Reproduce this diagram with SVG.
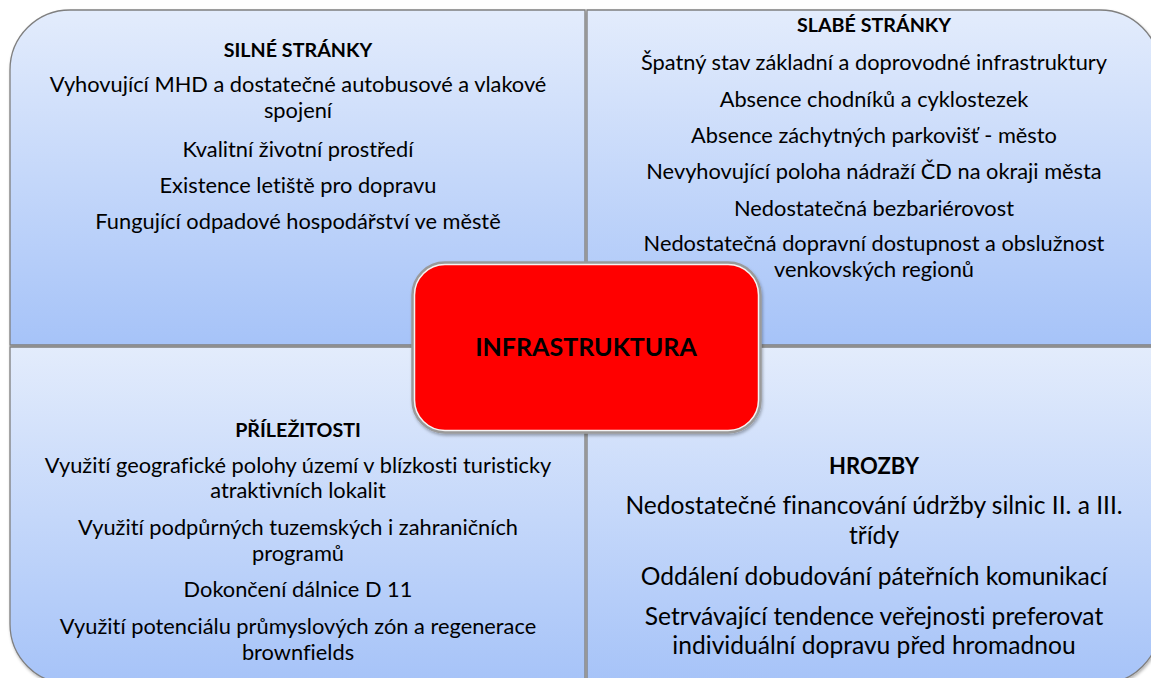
<svg xmlns="http://www.w3.org/2000/svg" width="1151" height="678" viewBox="0 0 1151 678">
<defs>
<linearGradient id="gq" x1="0" y1="0" x2="0" y2="1">
<stop offset="0" stop-color="#e3ecfc"/>
<stop offset="1" stop-color="#a6c3f8"/>
</linearGradient>
<filter id="sh" x="-5%" y="-5%" width="110%" height="115%">
<feDropShadow dx="1" dy="2" stdDeviation="1.5" flood-color="#000" flood-opacity="0.3"/>
</filter>
</defs>
<style>
.q{fill:url(#gq);stroke:#7f7f7f;stroke-width:1.3}
text{font-family:Lato,"Open Sans","Liberation Sans",sans-serif;fill:#000;text-anchor:middle;font-variant-ligatures:none}
.t{font-size:21.8px}
.h{font-size:19.7px;font-weight:bold}
.b{font-size:24.6px}
.hb{font-size:22px;font-weight:bold}
.c{font-size:25px;font-weight:bold}
</style>
<rect width="1151" height="678" fill="#fff"/>
<g id="silne">
<path class="q" filter="url(#sh)" d="M10,345 V70 A60,60 0 0 1 70,10 H585 V345 Z"/>
<text class="h" x="298" y="57">SILNÉ STRÁNKY</text>
<text class="t" x="298" y="92">Vyhovující MHD a dostatečné autobusové a vlakové</text>
<text class="t" x="298" y="118">spojení</text>
<text class="t" x="298" y="157">Kvalitní životní prostředí</text>
<text class="t" x="298" y="193">Existence letiště pro dopravu</text>
<text class="t" x="298" y="229">Fungující odpadové hospodářství ve městě</text>
</g>
<g id="slabe">
<path class="q" filter="url(#sh)" d="M587,10 H1100 A60,60 0 0 1 1160,70 V345 H587 Z"/>
<text class="h" x="874" y="32">SLABÉ STRÁNKY</text>
<text class="t" x="874" y="70">Špatný stav základní a doprovodné infrastruktury</text>
<text class="t" x="874" y="107">Absence chodníků a cyklostezek</text>
<text class="t" x="874" y="143">Absence záchytných parkovišť - město</text>
<text class="t" x="874" y="179">Nevyhovující poloha nádraží ČD na okraji města</text>
<text class="t" x="874" y="216">Nedostatečná bezbariérovost</text>
<text class="t" x="874" y="251">Nedostatečná dopravní dostupnost a obslužnost</text>
<text class="t" x="874" y="277">venkovských regionů</text>
</g>
<g id="prilezitosti">
<path class="q" filter="url(#sh)" d="M10,347 H585 V684 H70 A60,60 0 0 1 10,624 Z"/>
<text class="h" x="298" y="437">PŘÍLEŽITOSTI</text>
<text class="t" x="298" y="473">Využití geografické polohy území v blízkosti turisticky</text>
<text class="t" x="298" y="498">atraktivních lokalit</text>
<text class="t" x="298" y="535">Využití podpůrných tuzemských i zahraničních</text>
<text class="t" x="298" y="561">programů</text>
<text class="t" x="298" y="597">Dokončení dálnice D 11</text>
<text class="t" x="298" y="634">Využití potenciálu průmyslových zón a regenerace</text>
<text class="t" x="298" y="660">brownfields</text>
</g>
<g id="hrozby">
<path class="q" filter="url(#sh)" d="M587,347 H1160 V624 A60,60 0 0 1 1100,684 H587 Z"/>
<text class="hb" x="874" y="474">HROZBY</text>
<text class="b" x="874" y="514">Nedostatečné financování údržby silnic II. a III.</text>
<text class="b" x="874" y="544">třídy</text>
<text class="b" x="874" y="585">Oddálení dobudování páteřních komunikací</text>
<text class="b" x="874" y="625">Setrvávající tendence veřejnosti preferovat</text>
<text class="b" x="874" y="654">individuální dopravu před hromadnou</text>
</g>
<g id="connectors"></g>
<g id="infrastruktura">
<rect x="413" y="263" width="347" height="169" rx="32" fill="#ff0000" stroke="#9a9a9a" stroke-width="3.5" filter="url(#sh)"/>
<rect x="414.5" y="264.5" width="344" height="166" rx="30.5" fill="none" stroke="#f4f4f4" stroke-width="1.5"/>
<text class="c" x="586" y="356">INFRASTRUKTURA</text>
</g>
</svg>
